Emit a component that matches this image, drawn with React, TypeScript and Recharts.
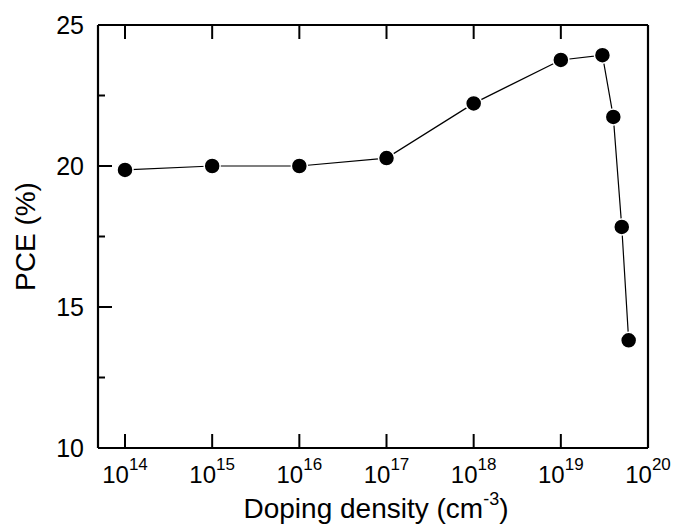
import { LineChart, Line, XAxis, YAxis } from 'recharts'

const dopingDensity = [1e14, 1e15, 1e16, 1e17, 1e18, 1e19, 3e19, 4e19, 5e19, 6e19]
const pceValues = [19.86, 20.0, 20.0, 20.28, 22.22, 23.76, 23.93, 21.74, 17.84, 13.82]
const xTicks = [1e14, 1e15, 1e16, 1e17, 1e18, 1e19, 1e20]
const yTicks = [10, 12.5, 15, 17.5, 20, 22.5, 25]
const yMajor = [10, 15, 20, 25]

const data = dopingDensity.map((x, i) => ({ x, pce: pceValues[i] }))

const font = '"Liberation Sans", Arial, sans-serif'

// ticks point into the plot on all four sides, labels only bottom/left
function XTick({ x, y, payload, side }: any) {
  const dir = side === 'top' ? 1 : -1
  const exp = Math.round(Math.log10(payload.value))
  return (
    <g>
      <line x1={x} y1={y} x2={x} y2={y + dir * 14} stroke="#000" strokeWidth={2} />
      {side === 'bottom' && (
        <text x={x} y={y + 35} textAnchor="middle" fontFamily={font} fill="#000">
          <tspan fontSize={24}>10</tspan>
          <tspan fontSize={17} dy={-13}>{exp}</tspan>
        </text>
      )}
    </g>
  )
}

function YTick({ x, y, payload, side }: any) {
  const dir = side === 'left' ? 1 : -1
  const major = yMajor.includes(payload.value)
  return (
    <g>
      <line x1={x} y1={y} x2={x + dir * (major ? 14 : 7)} y2={y} stroke="#000" strokeWidth={2} />
      {side === 'left' && major && (
        <text x={x - 14} y={y} dy="0.36em" textAnchor="end" fontSize={25} fontFamily={font} fill="#000">
          {payload.value}
        </text>
      )}
    </g>
  )
}

function XTitle({ viewBox }: any) {
  const cx = viewBox.x + viewBox.width / 2
  return (
    <text x={cx + 3} y={viewBox.y + 70} textAnchor="middle" fontSize={28} fontFamily={font} fill="#000">
      <tspan>Doping density (cm</tspan>
      <tspan fontSize={18} dy={-13}>-3</tspan>
      <tspan dy={13}>)</tspan>
    </text>
  )
}

function YTitle({ viewBox }: any) {
  const cy = viewBox.y + viewBox.height / 2
  return (
    <text
      x={35}
      y={cy}
      transform={`rotate(-90 35 ${cy})`}
      textAnchor="middle"
      fontSize={28}
      fontFamily={font}
      fill="#000"
    >
      PCE (%)
    </text>
  )
}

const axisLine = { stroke: '#000', strokeWidth: 2.2 }

export default function App() {
  return (
    <div style={{ position: 'absolute', left: 0, top: 0, background: '#fff' }}>
      <LineChart width={673} height={525} data={data} margin={{ top: 24, right: 24, bottom: 0, left: 0 }}>
        <XAxis
          dataKey="x"
          type="number"
          scale="log"
          domain={[4.9e13, 1e20]}
          allowDataOverflow
          ticks={xTicks}
          interval={0}
          height={77}
          tickSize={0}
          tickMargin={0}
          tickLine={false}
          axisLine={axisLine}
          tick={<XTick side="bottom" />}
          label={<XTitle />}
        />
        <XAxis
          xAxisId="top"
          orientation="top"
          dataKey="x"
          type="number"
          scale="log"
          domain={[4.9e13, 1e20]}
          allowDataOverflow
          ticks={xTicks}
          interval={0}
          height={1}
          tickSize={0}
          tickMargin={0}
          tickLine={false}
          axisLine={axisLine}
          tick={<XTick side="top" />}
        />
        <YAxis
          type="number"
          domain={[10, 25]}
          ticks={yTicks}
          interval={0}
          width={98}
          tickSize={0}
          tickMargin={0}
          tickLine={false}
          axisLine={axisLine}
          tick={<YTick side="left" />}
          label={<YTitle />}
        />
        <YAxis
          yAxisId="right"
          orientation="right"
          type="number"
          domain={[10, 25]}
          ticks={yTicks}
          interval={0}
          width={1}
          tickSize={0}
          tickMargin={0}
          tickLine={false}
          axisLine={axisLine}
          tick={<YTick side="right" />}
        />
        <Line
          dataKey="pce"
          stroke="#000"
          strokeWidth={1.2}
          isAnimationActive={false}
          dot={{ r: 8, fill: '#000', stroke: '#fff', strokeWidth: 1.5 }}
        />
      </LineChart>
    </div>
  )
}
